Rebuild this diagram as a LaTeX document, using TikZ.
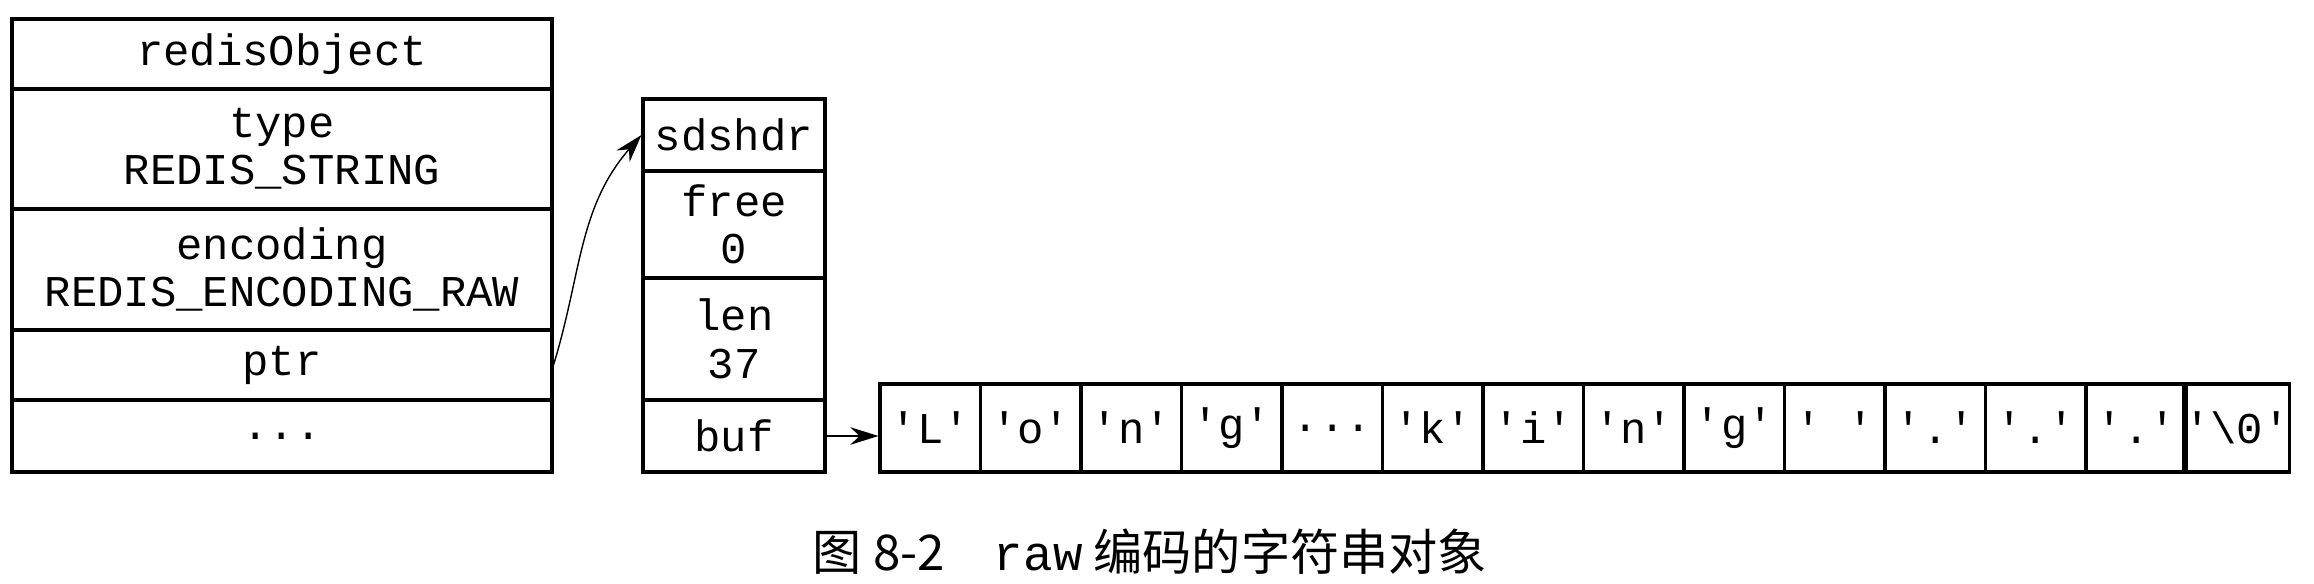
\documentclass[tikz,border=0pt]{standalone}
\usepackage{fontspec}
\setmonofont{Liberation Mono}
\newfontfamily\cjk{Noto Sans CJK SC}
\usetikzlibrary{arrows.meta}

\begin{document}
\begin{tikzpicture}[x=0.02cm,y=-0.02cm,
    cell/.style={draw,line width=1.8pt,inner sep=0pt,align=center,
      font=\fontsize{25}{27}\selectfont\ttfamily},
    objcell/.style={cell,minimum width=10.8cm},
    hdrcell/.style={cell,minimum width=3.64cm},
    chcell/.style={cell,minimum width=2.01cm,minimum height=1.76cm},
    link/.style={line width=0.8pt,-{Stealth[length=16pt,width=10pt]}}]
      \useasboundingbox (0,0) rectangle (2314,584);
      % redisObject
      \path (282,54) node[objcell,minimum height=1.4cm] (obj) {redisObject};
      \path (282,149) node[objcell,minimum height=2.4cm] (type) {type\\REDIS\_STRING};
      \path (282,269.5) node[objcell,minimum height=2.42cm] (enc) {encoding\\REDIS\_ENCODING\_RAW};
      \path (282,365) node[objcell,minimum height=1.4cm] (ptr) {ptr};
      \path (282,436) node[objcell,minimum height=1.44cm] (more) {...};
      % sdshdr
      \path (734,135) node[hdrcell,minimum height=1.44cm] (sds) {sdshdr};
      \path (734,224.5) node[hdrcell,minimum height=2.14cm] (free) {free\\0};
      \path (734,339) node[hdrcell,minimum height=2.44cm] (len) {len\\37};
      \path (734,436) node[hdrcell,minimum height=1.44cm] (buf) {buf};
      % buf contents
      \foreach \ch [count=\i] in {'L','o','n','g',.{}.{}.,'k','i','n','g',{' '},
          '.','.','.','\textbackslash0'}
        \path (880+100.5*\i-50.25,428) node[chcell] (c\i) {\ch};
      \draw[link] (ptr.east) to[out=73,in=229] (sds.west);
      \draw[link] (buf.east) -- (buf.east -| c1.west);
      \path (1150,552) node[font=\fontsize{28}{30}\selectfont\cjk] (caption)
        {图 8-2\quad{\ttfamily raw} 编码的字符串对象};
\end{tikzpicture}
\end{document}
